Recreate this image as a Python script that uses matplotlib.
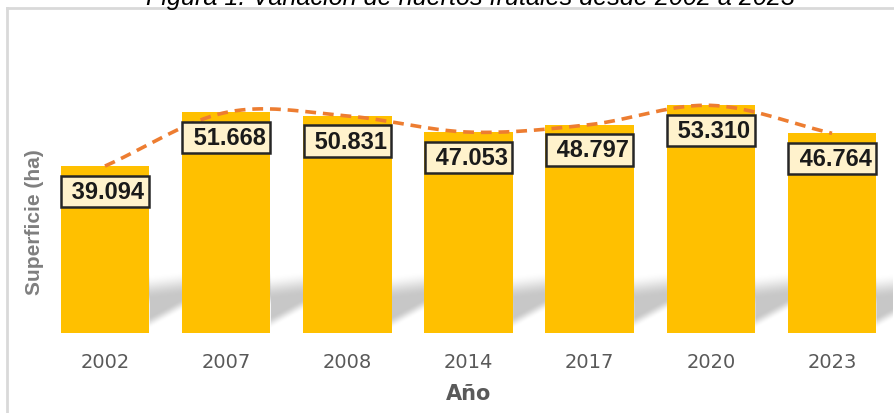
import matplotlib
matplotlib.use("Agg")
import matplotlib.pyplot as plt
import numpy as np
from matplotlib.lines import Line2D
from matplotlib import font_manager as fm

years = ["2002", "2007", "2008", "2014", "2017", "2020", "2023"]
values = [39.094, 51.668, 50.831, 47.053, 48.797, 53.310, 46.764]
labels = ["39.094", "51.668", "50.831", "47.053", "48.797", "53.310", "46.764"]
title = "Figura 1. Variación de huertos frutales desde 2002 a 2023"


def find_font(name, weight, style):
    for f in fm.fontManager.ttflist:
        if f.name == name and f.style == style and (f.weight >= 600) == (weight == "bold"):
            return fm.FontProperties(fname=f.fname)
    return fm.FontProperties(family="DejaVu Sans", weight=weight, style=style)


f_bold = find_font("Liberation Sans", "bold", "normal")
f_ital = find_font("Liberation Sans", "normal", "italic")
f_narrow = find_font("Liberation Sans Narrow", "normal", "normal")
f_narrow_b = find_font("Liberation Sans Narrow", "bold", "normal")

W, H = 894, 414
fig = plt.figure(figsize=(W / 100, H / 100), dpi=100)


def px(x0, y0, x1, y1):
    return [x0 / W, 1 - y1 / H, (x1 - x0) / W, (y1 - y0) / H]


ax = fig.add_axes(px(44.4, 77.8, 892.6, 334))
x = np.arange(len(years))
ax.set_xlim(-0.5, 6.5)
ax.set_ylim(0, 60)
bw = 0.73
ppu = 256.2 / 60  # pixels per y unit

# slanted soft shadow in the gaps between bars
nx, ny = 900, 120
xs = np.linspace(-0.36, 6.5, nx)
hs = np.linspace(0, 70, ny)  # pixel height above baseline
XX, HH = np.meshgrid(xs, hs)
f = np.clip(((XX - bw / 2) % 1) / (1 - bw), 0, 1.3)


def sstep(a, b, v):
    t = np.clip((v - a) / (b - a), 0, 1)
    return t * t * (3 - 2 * t)


lower = 4 + 18 * f
upper = 58 + 4 * f
prof = sstep(lower, lower + 12, HH) * (1 - sstep(upper - 24, upper, HH))
img = np.zeros((ny, nx, 4))
img[..., :3] = 0.76
img[..., 3] = prof * 0.9
ax.imshow(img[::-1], extent=(-0.36, 6.5, 0, 70 / ppu), aspect="auto", zorder=1,
          interpolation="bilinear")

ax.bar(x, values, width=bw, color="#FFC000", zorder=2)

# smoothed dashed line through the values (Catmull-Rom)
pts = np.column_stack([x, values]).astype(float)
ext = np.vstack([2 * pts[0] - pts[1], pts, 2 * pts[-1] - pts[-2]])
curve = []
t = np.linspace(0, 1, 40)
for i in range(1, len(ext) - 2):
    p0, p1, p2, p3 = ext[i - 1], ext[i], ext[i + 1], ext[i + 2]
    seg = 0.5 * ((2 * p1)[None, :] + (-p0 + p2)[None, :] * t[:, None]
                 + (2 * p0 - 5 * p1 + 4 * p2 - p3)[None, :] * t[:, None] ** 2
                 + (-p0 + 3 * p1 - 3 * p2 + p3)[None, :] * t[:, None] ** 3)
    curve.append(seg)
curve = np.vstack(curve)
ax.plot(curve[:, 0], curve[:, 1], color="#ED7D31", lw=2.6, dashes=(3, 1.9), zorder=3)

for xi, v, lab in zip(x, values, labels):
    fp = f_bold.copy()
    fp.set_size(17)
    ax.text(xi, v - 5.9, " " + lab, ha="center", va="center", fontproperties=fp,
            color="#1a1a1a", zorder=5,
            bbox=dict(boxstyle="square,pad=0.18", fc="#FFF2CC", ec="#262626", lw=1.8))

for s in ax.spines.values():
    s.set_visible(False)
ax.set_yticks([])
ax.set_xticks(x)
fpt = f_narrow.copy()
fpt.set_size(14)
ax.set_xticklabels(years, fontproperties=fpt, color="#595959")
ax.tick_params(axis="x", length=0, pad=14)
fpx = f_narrow_b.copy()
fpx.set_size(15)
ax.set_xlabel("Año", fontproperties=fpx, color="#595959", labelpad=8)

fpy = f_bold.copy()
fpy.set_size(15)
fig.text(35 / W, 1 - 222 / H, "Superficie (ha)", rotation=90, ha="center", va="center",
         fontproperties=fpy, color="#7F7F7F")

fpti = f_ital.copy()
fpti.set_size(18.2)
fig.text(470 / W, 1 - 5 / H, title, ha="center", va="baseline", fontproperties=fpti,
         color="#000000")

fig.add_artist(Line2D([7 / W, 1], [1 - 9 / H, 1 - 9 / H], color="#D9D9D9", lw=2,
                      transform=fig.transFigure))
fig.add_artist(Line2D([7 / W, 7 / W], [1 - 9 / H, 0], color="#D9D9D9", lw=2,
                      transform=fig.transFigure))

fig.savefig("out.png", dpi=100)
